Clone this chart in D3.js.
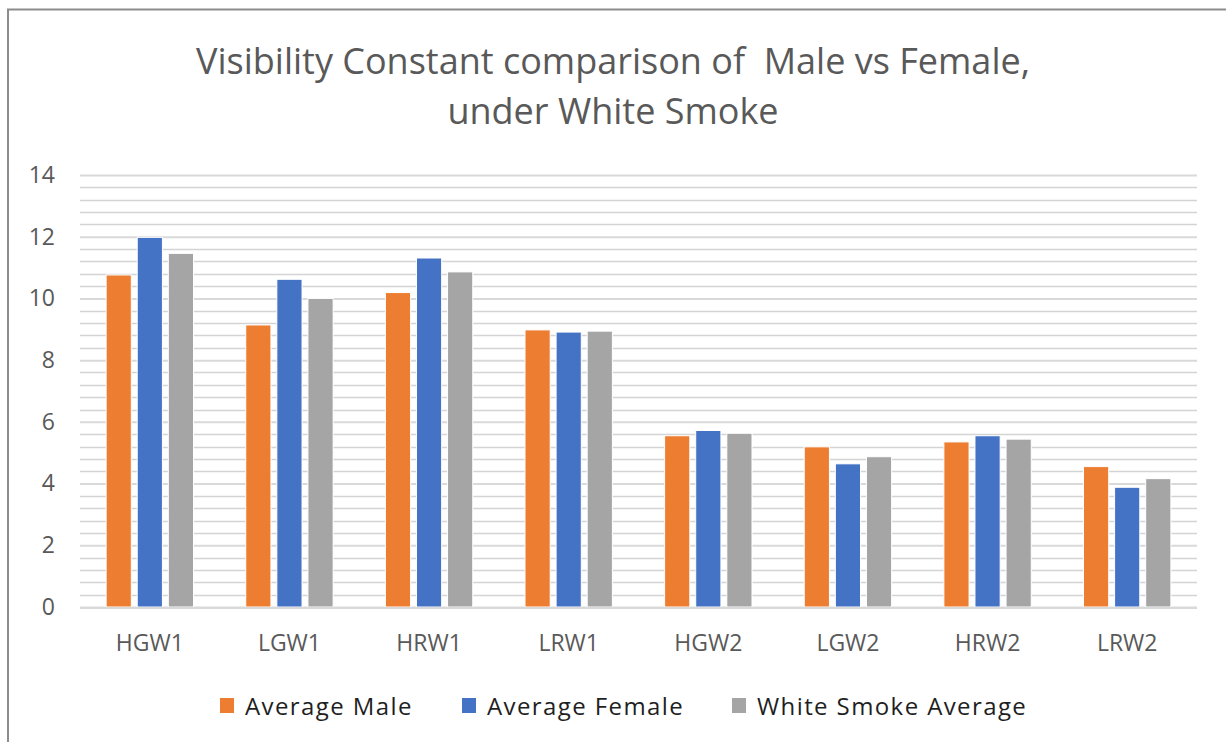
<!DOCTYPE html>
<html>
<head>
<meta charset="utf-8">
<script src="https://cdn.jsdelivr.net/npm/d3@7"></script>
<style>
  body { margin: 0; background: #fff; }
  svg { display: block; }
</style>
</head>
<body>
<svg id="chart" width="1226" height="742"></svg>
<script>
/*--- Data ---*/
const categories = ["HGW1", "LGW1", "HRW1", "LRW1", "HGW2", "LGW2", "HRW2", "LRW2"];
const seriesNames = ["Average Male", "Average Female", "White Smoke Average"];
const maleValues = [10.76, 9.14, 10.19, 8.98, 5.55, 5.19, 5.35, 4.55];
const femaleValues = [11.98, 10.62, 11.31, 8.91, 5.72, 4.64, 5.55, 3.88];
const smokeValues = [11.46, 10.0, 10.86, 8.94, 5.63, 4.87, 5.44, 4.16];
const yTicks = [0, 2, 4, 6, 8, 10, 12, 14];
const titleLines = ["Visibility Constant comparison of  Male vs Female,", "under White Smoke"];

const colors = ["#ed7d31", "#4472c4", "#a5a5a5"];
const seriesValues = [maleValues, femaleValues, smokeValues];

/*--- Setup ---*/
const svg = d3.select("#chart");
const plot = { left: 80, right: 1197, top: 175, bottom: 607 };

// chart border (Excel chart area)
svg.append("path")
    .attr("d", "M8,742 L8,9.5 L1226,9.5")
    .attr("fill", "none")
    .attr("stroke", "#8c8c8c")
    .attr("stroke-width", 2);

const x = d3.scaleBand()
    .domain(categories)
    .range([plot.left, plot.right]);

const xSub = d3.scaleBand()
    .domain(seriesNames)
    .range([0, x.bandwidth()])
    .paddingInner(0.19)
    .paddingOuter(0.84);

const y = d3.scaleLinear()
    .domain([0, 14])
    .range([plot.bottom, plot.top]);

/*--- Gridlines ---*/
// minor lines every 0.4
const minor = d3.range(0, 35).map(i => i * 0.4).filter(v => Math.abs(v / 2 - Math.round(v / 2)) > 1e-6);
svg.append("g")
    .selectAll("line")
    .data(minor)
    .join("line")
    .attr("x1", plot.left)
    .attr("x2", plot.right)
    .attr("y1", d => Math.round(y(d)) + 0.5)
    .attr("y2", d => Math.round(y(d)) + 0.5)
    .attr("stroke", "#d4d4d4")
    .attr("stroke-width", 1.5);

// major lines via axis
const yAxis = svg.append("g")
    .attr("transform", `translate(${plot.left},0)`)
    .call(d3.axisLeft(y).tickValues(yTicks).tickSize(-(plot.right - plot.left)).tickPadding(25));
yAxis.select(".domain").remove();
yAxis.selectAll(".tick line")
    .attr("stroke", "#d9d9d9")
    .attr("stroke-width", 2);
yAxis.selectAll(".tick text")
    .attr("font-family", "'Open Sans', sans-serif")
    .attr("font-size", 23)
    .attr("fill", "#595959");

/*--- Bars ---*/
const groups = svg.append("g")
    .selectAll("g")
    .data(categories)
    .join("g")
    .attr("transform", d => `translate(${x(d)},0)`);

groups.selectAll("rect")
    .data((c, i) => seriesNames.map((s, j) => ({ series: s, value: seriesValues[j][i], color: colors[j] })))
    .join("rect")
    .attr("x", d => xSub(d.series))
    .attr("width", xSub.bandwidth())
    .attr("y", d => y(d.value))
    .attr("height", d => y(0) - y(d.value))
    .attr("fill", d => d.color)
    .attr("stroke", "#fff")
    .attr("stroke-width", 1);

// baseline
svg.append("line")
    .attr("x1", plot.left)
    .attr("x2", plot.right)
    .attr("y1", y(0) + 1)
    .attr("y2", y(0) + 1)
    .attr("stroke", "#d9d9d9")
    .attr("stroke-width", 2);

/*--- X axis labels ---*/
const xAxis = svg.append("g")
    .attr("transform", `translate(0,${plot.bottom})`)
    .call(d3.axisBottom(x).tickSize(0).tickPadding(28));
xAxis.select(".domain").remove();
xAxis.selectAll(".tick text")
    .attr("font-family", "'Open Sans', sans-serif")
    .attr("font-size", 23)
    .attr("fill", "#595959");

/*--- Title ---*/
svg.append("g")
    .selectAll("text")
    .data(titleLines)
    .join("text")
    .attr("x", 613)
    .attr("y", (d, i) => 74 + i * 50)
    .attr("text-anchor", "middle")
    .attr("font-family", "'Open Sans', sans-serif")
    .attr("font-size", 36)
    .attr("fill", "#595959")
    .style("white-space", "pre")
    .text(d => d);

/*--- Legend ---*/
const legendX = [220, 462, 732];
const legend = svg.append("g")
    .selectAll("g")
    .data(seriesNames)
    .join("g")
    .attr("transform", (d, i) => `translate(${legendX[i]},698)`);
legend.append("rect")
    .attr("width", 14)
    .attr("height", 15)
    .attr("fill", (d, i) => colors[i]);
legend.append("text")
    .attr("x", 25)
    .attr("y", 17)
    .attr("font-family", "'Open Sans', sans-serif")
    .attr("font-size", 24)
    .attr("letter-spacing", 1.4)
    .attr("fill", "#1f1f1f")
    .text(d => d);
</script>
</body>
</html>
